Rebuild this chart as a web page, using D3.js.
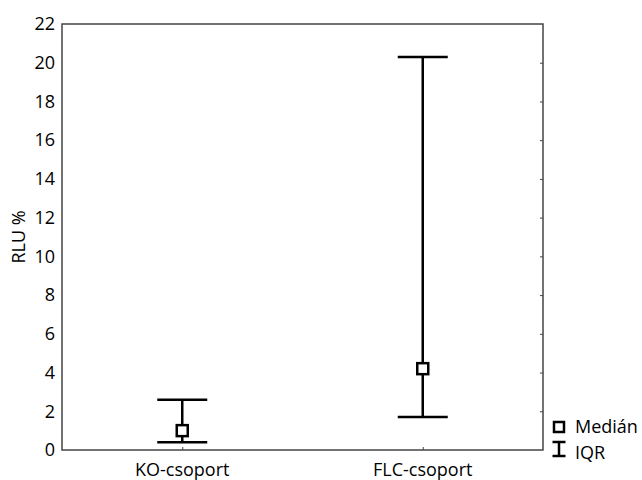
<!DOCTYPE html>
<html>
<head>
<meta charset="utf-8">
<script src="https://cdn.jsdelivr.net/npm/d3@7"></script>
<style>
  body { margin: 0; background: #fff; }
  svg text { font-family: "Open Sans", "Noto Sans", sans-serif; fill: #000; }
</style>
</head>
<body>
<svg id="chart" width="642" height="480"></svg>
<script>
var groups = ["KO-csoport", "FLC-csoport"];
var medians = [1.0, 4.2];
var q1 = [0.4, 1.7];
var q3 = [2.6, 20.3];
var yTicks = [0, 2, 4, 6, 8, 10, 12, 14, 16, 18, 20, 22];

var margin = {top: 24, right: 99, bottom: 30, left: 62},
    width = 642 - margin.left - margin.right,
    height = 480 - margin.top - margin.bottom;

var svg = d3.select("#chart");
var g = svg.append("g")
    .attr("transform", "translate(" + margin.left + "," + margin.top + ")");

var x = d3.scalePoint().domain(groups).range([0, width]).padding(0.5);
var y = d3.scaleLinear().domain([0, 22]).range([height, 0]);

// frame
g.append("rect")
    .attr("width", width).attr("height", height)
    .attr("fill", "none").attr("stroke", "#444").attr("stroke-width", 1.5);

// left axis labels (no tick marks)
var yAxis = g.append("g")
    .call(d3.axisLeft(y).tickValues(yTicks).tickSize(0).tickPadding(7));
yAxis.select(".domain").remove();
yAxis.selectAll("text").style("font-size", "18px");

// right inner ticks
var yRight = g.append("g")
    .attr("transform", "translate(" + width + ",0)")
    .call(d3.axisLeft(y).tickValues(yTicks.slice(1, -1)).tickSize(3).tickFormat(""));
yRight.select(".domain").remove();
yRight.selectAll("line").attr("stroke", "#444");

// bottom axis
var xAxis = g.append("g")
    .attr("transform", "translate(0," + height + ")")
    .call(d3.axisTop(x).tickSize(3).tickFormat(""));
xAxis.select(".domain").remove();
xAxis.selectAll("line").attr("stroke", "#444");

g.selectAll(".xlab")
    .data(groups)
    .enter().append("text")
    .attr("x", function(d) { return x(d); })
    .attr("y", height + 26)
    .attr("text-anchor", "middle")
    .style("font-size", "18px")
    .text(function(d) { return d; });

// axis title
g.append("text")
    .attr("transform", "rotate(-90)")
    .attr("x", -height / 2)
    .attr("y", -37)
    .attr("text-anchor", "middle")
    .style("font-size", "18px")
    .text("RLU %");

// IQR bars
var capW = 25;
var bars = g.selectAll(".bar")
    .data(groups)
    .enter().append("g");

bars.append("line")
    .attr("x1", function(d) { return x(d); })
    .attr("x2", function(d) { return x(d); })
    .attr("y1", function(d, i) { return y(q1[i]); })
    .attr("y2", function(d, i) { return y(q3[i]); })
    .attr("stroke", "#000").attr("stroke-width", 2.5);

bars.append("line")
    .attr("x1", function(d) { return x(d) - capW; })
    .attr("x2", function(d) { return x(d) + capW; })
    .attr("y1", function(d, i) { return y(q1[i]); })
    .attr("y2", function(d, i) { return y(q1[i]); })
    .attr("stroke", "#000").attr("stroke-width", 2.5);

bars.append("line")
    .attr("x1", function(d) { return x(d) - capW; })
    .attr("x2", function(d) { return x(d) + capW; })
    .attr("y1", function(d, i) { return y(q3[i]); })
    .attr("y2", function(d, i) { return y(q3[i]); })
    .attr("stroke", "#000").attr("stroke-width", 2.5);

// medians
bars.append("rect")
    .attr("x", function(d) { return x(d) - 5.5; })
    .attr("y", function(d, i) { return y(medians[i]) - 5.5; })
    .attr("width", 11).attr("height", 11)
    .attr("fill", "#fff").attr("stroke", "#000").attr("stroke-width", 2.5);

// legend
var lg = svg.append("g").attr("transform", "translate(559,0)");
lg.append("rect")
    .attr("x", -5).attr("y", 422).attr("width", 10).attr("height", 10)
    .attr("fill", "#fff").attr("stroke", "#000").attr("stroke-width", 2.5);
lg.append("text").attr("x", 16).attr("y", 433).style("font-size", "18px").text("Medián");
lg.append("line").attr("x1", 0).attr("x2", 0).attr("y1", 442).attr("y2", 456)
    .attr("stroke", "#000").attr("stroke-width", 2.5);
lg.append("line").attr("x1", -6.5).attr("x2", 6.5).attr("y1", 442).attr("y2", 442)
    .attr("stroke", "#000").attr("stroke-width", 2.5);
lg.append("line").attr("x1", -6.5).attr("x2", 6.5).attr("y1", 456).attr("y2", 456)
    .attr("stroke", "#000").attr("stroke-width", 2.5);
lg.append("text").attr("x", 16).attr("y", 459).style("font-size", "18px").text("IQR");
</script>
</body>
</html>
